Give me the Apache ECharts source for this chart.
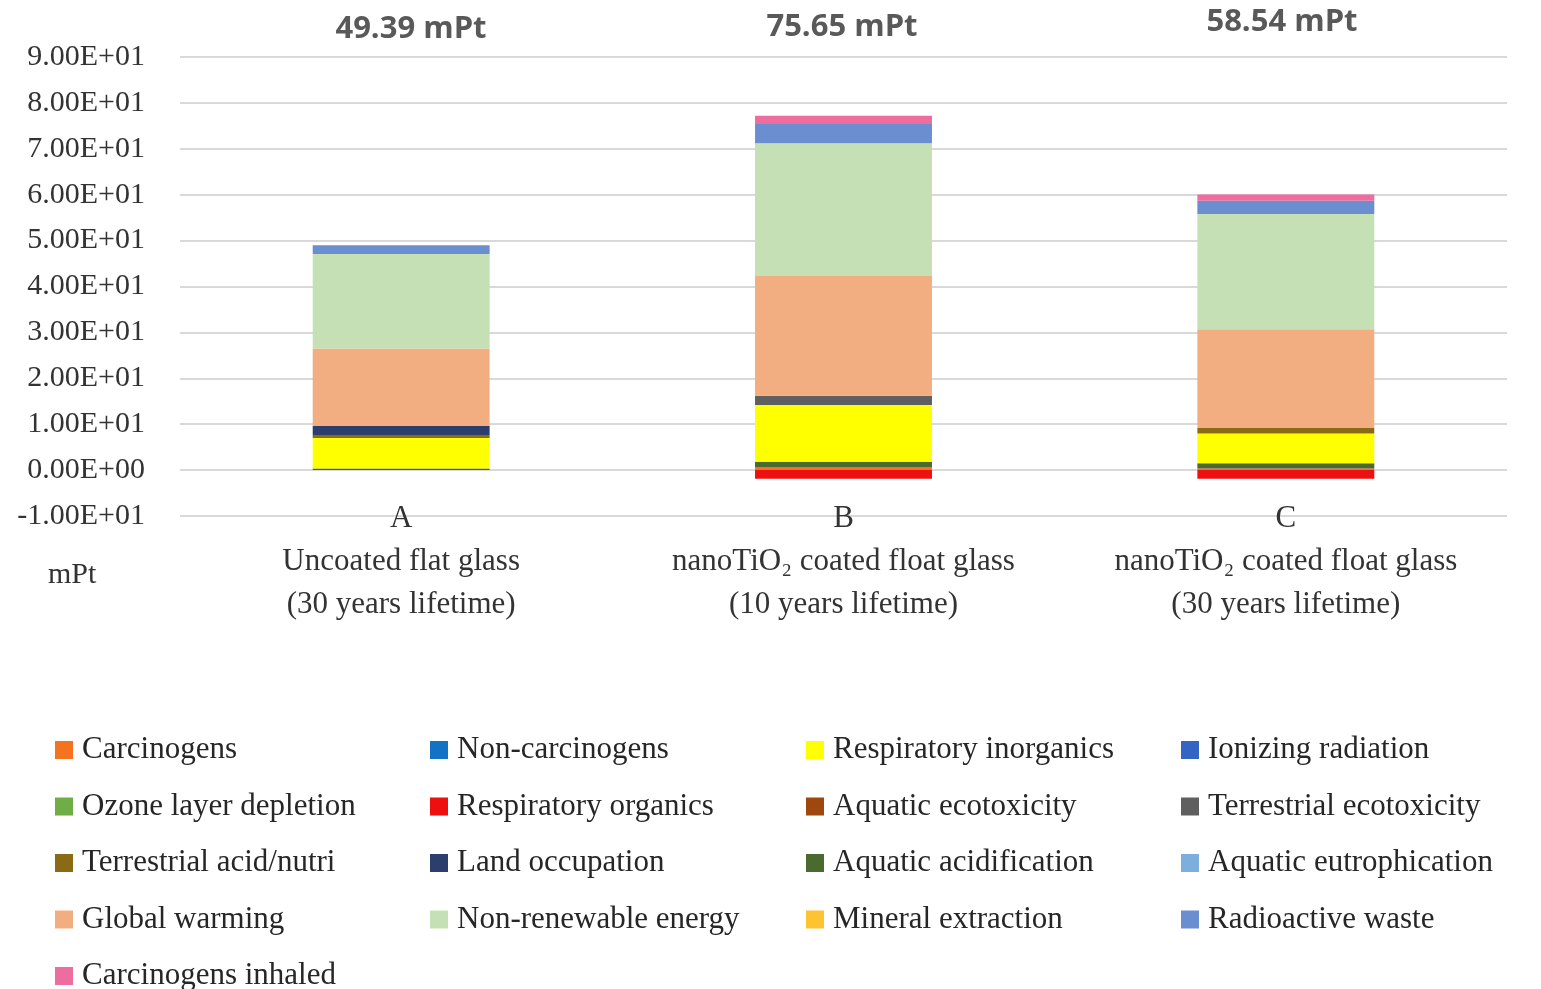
<!DOCTYPE html>
<html lang="en">
<head>
    <meta charset="UTF-8">
    <title>Impact categories</title>
    <script src="https://cdn.jsdelivr.net/npm/echarts@6.0.0/dist/echarts.min.js" type="text/javascript"></script>
    <style>
        html, body { margin: 0; padding: 0; background: #fff; }
    </style>
</head>
<body>
<div id="bar" style="width:1541px;height:989px;"></div>

<script type="text/javascript">
    // categories (A, B, C)
    var categories = ['A\nUncoated flat glass\n(30 years lifetime)',
        'B\nnanoTiO\u2082 coated float glass\n(10 years lifetime)',
        'C\nnanoTiO\u2082 coated float glass\n(30 years lifetime)'];
    var totals = ['49.39 mPt', '75.65 mPt', '58.54 mPt'];

    // values in mPt
    var carcinogens = [0, 0.55, 0.37];
    var nonCarcinogens = [0, 0, 0];
    var respiratoryInorganics = [6.6, 12.4, 6.5];
    var ionizingRadiation = [0, 0, 0];
    var ozoneLayerDepletion = [0, 0, 0];
    var respiratoryOrganics = [0, -1.9, -1.9];
    var aquaticEcotoxicity = [0, 0, 0];
    var terrestrialEcotoxicity = [0, 2.0, 0];
    var terrestrialAcidNutri = [0.66, 0, 1.2];
    var landOccupation = [1.96, 0, 0];
    var aquaticAcidification = [0.37, 1.25, 1.1];
    var aquaticEutrophication = [0, 0, 0];
    var globalWarming = [16.9, 26.1, 21.5];
    var nonRenewableEnergy = [20.6, 28.9, 25.1];
    var mineralExtraction = [0, 0, 0];
    var radioactiveWaste = [1.9, 4.2, 2.9];
    var carcinogensInhaled = [0, 1.8, 1.4];

    var yTickValues = [-10, 0, 10, 20, 30, 40, 50, 60, 70, 80, 90];
    var yTickLabels = ['-1.00E+01', '0.00E+00', '1.00E+01', '2.00E+01', '3.00E+01', '4.00E+01',
        '5.00E+01', '6.00E+01', '7.00E+01', '8.00E+01', '9.00E+01'];

    // stacking order, bottom to top
    var seriesDefs = [
        ['Carcinogens', carcinogens, '#f4731f'],
        ['Aquatic acidification', aquaticAcidification, '#4a6a30'],
        ['Respiratory inorganics', respiratoryInorganics, '#ffff00'],
        ['Terrestrial acid/nutri', terrestrialAcidNutri, '#8a6a14'],
        ['Terrestrial ecotoxicity', terrestrialEcotoxicity, '#5f5f5f'],
        ['Land occupation', landOccupation, '#2c3f6c'],
        ['Global warming', globalWarming, '#f2ae80'],
        ['Non-renewable energy', nonRenewableEnergy, '#c5e0b4'],
        ['Radioactive waste', radioactiveWaste, '#6a8ed0'],
        ['Carcinogens inhaled', carcinogensInhaled, '#ec6d9e'],
        ['Non-carcinogens', nonCarcinogens, '#1472c4'],
        ['Ionizing radiation', ionizingRadiation, '#3565c2'],
        ['Ozone layer depletion', ozoneLayerDepletion, '#70ad47'],
        ['Respiratory organics', respiratoryOrganics, '#ee0f0f'],
        ['Aquatic ecotoxicity', aquaticEcotoxicity, '#9e480e'],
        ['Aquatic eutrophication', aquaticEutrophication, '#7cafdd'],
        ['Mineral extraction', mineralExtraction, '#fdc331']
    ];

    var legendColumns = [
        ['Carcinogens', 'Ozone layer depletion', 'Terrestrial acid/nutri', 'Global warming', 'Carcinogens inhaled'],
        ['Non-carcinogens', 'Respiratory organics', 'Land occupation', 'Non-renewable energy'],
        ['Respiratory inorganics', 'Aquatic ecotoxicity', 'Aquatic acidification', 'Mineral extraction'],
        ['Ionizing radiation', 'Terrestrial ecotoxicity', 'Aquatic eutrophication', 'Radioactive waste']
    ];
    var legendLeft = [55, 430, 806, 1181];

    var serif = '"Liberation Serif", "DejaVu Serif", serif';

    var series = seriesDefs.map(function (d) {
        return {
            name: d[0],
            type: 'bar',
            stack: 'total',
            barWidth: '40%',
            data: d[1],
            itemStyle: { color: d[2] },
            emphasis: { disabled: true }
        };
    });

    var legends = legendColumns.map(function (col, i) {
        return {
            data: col,
            orient: 'vertical',
            left: legendLeft[i],
            top: 734,
            height: 320,
            itemWidth: 18,
            itemHeight: 18,
            itemGap: 24.5,
            icon: 'rect',
            selectedMode: false,
            padding: 0,
            textStyle: {
                fontFamily: serif,
                fontSize: 31,
                lineHeight: 32,
                color: '#262626',
                padding: [0, 0, 0, 4]
            }
        };
    });

    var titleLeft = [411, 842, 1282];
    var titleTop = [14, 12, 7];
    var titles = totals.map(function (t, i) {
        return {
            text: t,
            left: titleLeft[i],
            top: titleTop[i],
            textAlign: 'center',
            padding: 0,
            textStyle: {
                fontFamily: '"Open Sans", sans-serif',
                fontWeight: 'bold',
                fontSize: 31,
                color: '#595959'
            }
        };
    });

    var chart = echarts.init(document.getElementById('bar'));
    chart.setOption({
        animation: false,
        title: titles,
        legend: legends,
        grid: { left: 180, right: 34, top: 57, bottom: 473 },
        xAxis: {
            type: 'category',
            data: categories,
            axisLine: { show: false },
            axisTick: { show: false },
            axisLabel: {
                margin: -19,
                fontFamily: serif,
                fontSize: 31,
                lineHeight: 43,
                color: '#333333',
                interval: 0
            }
        },
        yAxis: {
            type: 'value',
            min: -10,
            max: 90,
            interval: 10,
            axisLine: { show: false },
            axisTick: { show: false },
            splitLine: { lineStyle: { color: '#d9d9d9', width: 2 } },
            axisLabel: {
                margin: 35,
                fontFamily: serif,
                fontSize: 30,
                color: '#333333',
                formatter: function (v) {
                    return yTickLabels[yTickValues.indexOf(v)];
                }
            }
        },
        graphic: [{
            type: 'text',
            left: 48,
            top: 560,
            style: {
                text: 'mPt',
                font: '30px ' + serif,
                fill: '#333333'
            }
        }],
        series: series
    });
</script>
</body>
</html>
